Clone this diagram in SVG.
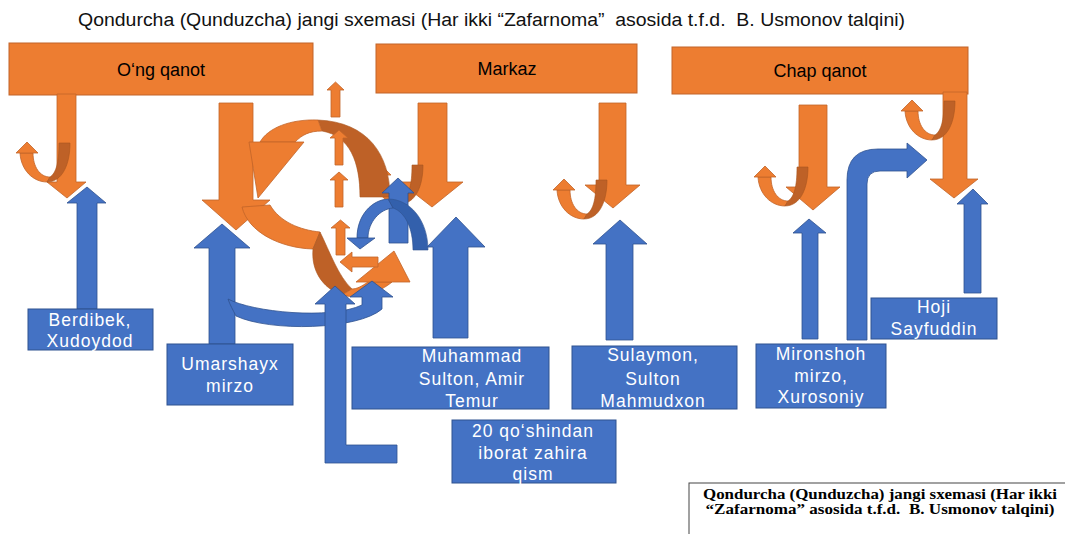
<svg xmlns="http://www.w3.org/2000/svg" xmlns:xlink="http://www.w3.org/1999/xlink" width="1065" height="534" viewBox="0 0 1065 534">
<style>
.or{fill:#ED7D31;stroke:#C1652A;stroke-width:0.8}
.ord{fill:#BE6127;stroke:#A9561F;stroke-width:0.6}
.bl{fill:#4472C4;stroke:#2F528F;stroke-width:0.8}
.bld{fill:#3360AC;stroke:#2F528F;stroke-width:0.6}
.topbox{fill:#ED7D31;stroke:#C1652A;stroke-width:1}
.nbox{fill:#4472C4;stroke:#2F528F;stroke-width:1}
.lbl{font-family:"Liberation Sans",Arial,sans-serif;font-size:18px;fill:#000;text-anchor:middle}
.nt{font-family:"Liberation Sans",Arial,sans-serif;font-size:17.5px;fill:#fff;text-anchor:middle;letter-spacing:1px}
.cap{font-family:"Liberation Serif","Times New Roman",serif;font-size:14px;font-weight:bold;fill:#000;text-anchor:middle}
</style>
<defs>
<g id="jcurve">
<path class="or" d="M -7,10 C -6,27 6,39 20,39 L 23,34 C 13,34 6,24 6,10 Z"/>
<path class="or" d="M -11,10 L 0,-1 L 11,10 Z"/>
<path class="ord" d="M 32,0 L 43,0 C 43,22 35,39 20,39 L 23,34 C 29,30 32,20 32,0 Z"/>
</g>
</defs>
<rect width="1065" height="534" fill="#fff"/>
<text x="78" y="26" xml:space="preserve" font-family="Liberation Sans, Arial, sans-serif" font-size="18" fill="#111" textLength="827" lengthAdjust="spacingAndGlyphs">Qondurcha (Qunduzcha) jangi sxemasi (Har ikki “Zafarnoma”  asosida t.f.d.  B. Usmonov talqini)</text>

<g id="ong-qanot"><rect class="topbox" x="9" y="43" width="304" height="52"/><text class="lbl" x="161" y="76">O‘ng qanot</text></g>
<g id="markaz"><rect class="topbox" x="376" y="44" width="261" height="49"/><text class="lbl" x="507" y="75">Markaz</text></g>
<g id="chap-qanot"><rect class="topbox" x="672" y="47" width="296" height="47"/><text class="lbl" x="820" y="77">Chap qanot</text></g>

<g id="connectors">
<!-- orange down arrows -->
<polygon class="or" points="57,94 76,94 76,182 86,182 67,198 47,182 57,182"/>
<polygon class="or" points="219,103 253,103 253,200 270,200 236,230 202,200 219,200"/>
<polygon class="or" points="418,103 447,103 447,182 463,182 432,207 400,182 418,182"/>
<polygon class="or" points="599,103 626,103 626,185 640,185 613,208 585,185 599,185"/>
<polygon class="or" points="799,105 827,105 827,187 840,187 813,210 786,187 799,187"/>
<polygon class="or" points="943,92 967,92 967,179 978,179 954,198 930,179 943,179"/>
<!-- J curves -->
<use xlink:href="#jcurve" x="27" y="143"/>
<use xlink:href="#jcurve" x="380" y="165"/>
<use xlink:href="#jcurve" x="564" y="180"/>
<use xlink:href="#jcurve" x="765" y="167"/>
<use xlink:href="#jcurve" x="912" y="101"/>
<!-- top curved arrow -->
<path class="ord" d="M 318,120 C 368,122 390,155 390,197 L 360,197 C 360,162 350,136 322,131 Z"/>
<path class="or" d="M 318,120 C 290,119 268,128 260,142 L 295,142 C 302,135 309,131 322,131 Z"/>
<path class="or" d="M 249,142 L 304,142 L 258,198 Z"/>
<!-- lower curved arrow -->
<path class="or" d="M 242,207 C 248,232 280,248 313,249 L 320,232 C 300,230 280,222 270,205 Z"/>
<path class="ord" d="M 320,232 C 330,252 338,276 352,289 L 342,295 C 322,288 311,270 313,249 Z"/>
<path class="or" d="M 342,295 C 360,300 380,292 392,282 L 368,282 C 362,286 357,289 352,289 Z"/>
<path class="or" d="M 356,282 L 394,251 L 410,282 Z"/>
<!-- small orange arrows -->
<polygon class="or" points="331,117 331,90 327,90 335.5,82 344,90 340,90 340,117"/>
<polygon class="or" points="335,165 335,138 330,138 339,130 348,138 343,138 343,165"/>
<polygon class="or" points="335,207 335,180 330,180 339,172 348,180 343,180 343,207"/>
<polygon class="or" points="336,255 336,228 331,228 340.5,220 350,228 345,228 345,255"/>
<polygon class="or" points="378,257 352,257 352,252 340,262 352,272 352,267 378,267"/>
<!-- blue up arrows -->
<polygon class="bl" points="77,309 77,203 67,203 87,187 106,203 97,203 97,309"/>
<polygon class="bl" points="209,344 209,248 194,248 222,224 250,248 235,248 235,344"/>
<polygon class="bl" points="433,338 433,247 427,247 456,217 485,247 468,247 468,338"/>
<polygon class="bl" points="606,340 606,244 593,244 620,220 647,244 633,244 633,340"/>
<polygon class="bl" points="802,339 802,233 793,233 809,219 826,233 818,233 818,339"/>
<polygon class="bl" points="964,293 964,204 957,204 973,189 988,204 981,204 981,293"/>
<polygon class="bl" points="389,243 389,193 382,193 398,178 414,193 408,193 408,243"/>
<!-- blue curved arrow near centre -->
<path class="bld" d="M 388,199 C 410,199 428,220 428,250 L 413,250 C 413,228 405,212 393,208 Z"/>
<path class="bl" d="M 388,199 C 372,200 357,215 357,238 L 368,238 C 368,222 380,209 393,208 Z"/>
<path class="bl" d="M 347,238 L 375,238 L 360,249 Z"/>
<!-- blue bent arrow -->
<path class="bl" d="M 847,340 L 847,180 Q 847,149 878,149 L 907,149 L 907,143 L 927,160 L 907,178 L 907,171 L 880,171 Q 867,171 867,184 L 867,340 Z"/>
<!-- Umarshayx curved band -->
<path class="bl" d="M 228,299 C 252,312 330,320 362,305 L 362,297 L 350,297 L 372,281 L 393,297 L 382,297 L 382,309 C 358,330 270,332 236,316 C 233,310 230,305 228,299 Z"/>
<!-- L arrow (reserve) -->
<polygon class="bl" points="335,286 355,304 346,304 346,445 397,445 397,463 325,463 325,304 315,304"/>
</g>

<g id="berdibek"><rect class="nbox" x="28" y="309" width="125" height="41"/><text class="nt" x="90" y="326">Berdibek,</text><text class="nt" x="90" y="347">Xudoydod</text></g>
<g id="umarshayx"><rect class="nbox" x="167" y="344" width="126" height="61"/><text class="nt" x="230" y="370">Umarshayx</text><text class="nt" x="230" y="392">mirzo</text></g>
<g id="muhammad"><rect class="nbox" x="352" y="347" width="197" height="62"/><text class="nt" x="472" y="362">Muhammad</text><text class="nt" x="472" y="385">Sulton, Amir</text><text class="nt" x="472" y="407">Temur</text></g>
<g id="zahira"><rect class="nbox" x="452" y="420" width="164" height="63"/><text class="nt" x="533" y="437">20 qo‘shindan</text><text class="nt" x="533" y="459">iborat zahira</text><text class="nt" x="533" y="480">qism</text></g>
<g id="sulaymon"><rect class="nbox" x="572" y="346" width="165" height="63"/><text class="nt" x="653" y="361">Sulaymon,</text><text class="nt" x="653" y="385">Sulton</text><text class="nt" x="653" y="407">Mahmudxon</text></g>
<g id="mironshoh"><rect class="nbox" x="756" y="344" width="130" height="64"/><text class="nt" x="821" y="360">Mironshoh</text><text class="nt" x="821" y="382">mirzo,</text><text class="nt" x="821" y="403">Xurosoniy</text></g>
<g id="hoji"><rect class="nbox" x="871" y="298" width="126" height="41"/><text class="nt" x="934" y="313">Hoji</text><text class="nt" x="934" y="335">Sayfuddin</text></g>

<g id="caption"><rect x="689" y="483" width="390" height="70" fill="#fff" stroke="#444" stroke-width="1"/>
<text class="cap" x="880" y="499" textLength="354" lengthAdjust="spacingAndGlyphs">Qondurcha (Qunduzcha) jangi sxemasi (Har ikki</text>
<text class="cap" x="880" y="514" xml:space="preserve" textLength="349" lengthAdjust="spacingAndGlyphs">“Zafarnoma” asosida t.f.d.  B. Usmonov talqini)</text></g>
</svg>
